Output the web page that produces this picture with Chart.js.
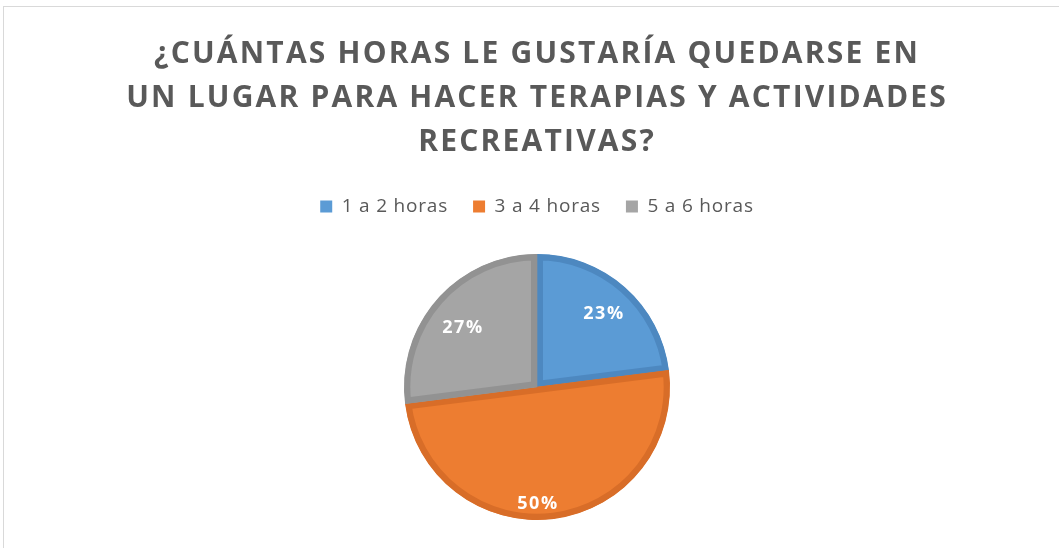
<!DOCTYPE html>
<html>
<head>
<meta charset="utf-8">
<script src="https://cdn.jsdelivr.net/npm/chart.js@4.4.1/dist/chart.umd.min.js"></script>
<style>
  html, body { margin: 0; padding: 0; background: #fff; overflow: hidden; }
  #frame { position: absolute; left: 3px; top: 6px; width: 1100px; height: 600px; border: 1px solid #d9d9d9; }
  #wrap { position: absolute; left: 0; top: 0; width: 1059px; height: 548px; }
</style>
</head>
<body>
<div id="frame"></div>
<div id="wrap"><canvas id="pieChart"></canvas></div>
<script>
const titleLines = ['¿CUÁNTAS HORAS LE GUSTARÍA QUEDARSE EN', 'UN LUGAR PARA HACER TERAPIAS Y ACTIVIDADES', 'RECREATIVAS?'];
const categories = ['1 a 2 horas', '3 a 4 horas', '5 a 6 horas'];
const percentages = [23, 50, 27];
const fillColors = ['#5B9BD5', '#ED7D31', '#A5A5A5'];
const edgeColors = ['#4D88C0', '#D86D28', '#929292'];

// legend text is a bit wider in the original, so add a little spacing
const spacingPlugin = {
  id: 'spacing',
  beforeLayout(chart) { chart.ctx.letterSpacing = '0.8px'; },
  beforeDraw(chart) { chart.ctx.letterSpacing = '0.8px'; },
  afterDraw(chart) { chart.ctx.letterSpacing = '0px'; }
};

// bold title drawn by hand (space kept with layout padding)
const bigTitle = {
  id: 'bigTitle',
  afterDraw(chart, args, opts) {
    const ctx = chart.ctx;
    ctx.save();
    ctx.letterSpacing = opts.spacing + 'px';
    ctx.font = 'bold 30px "Open Sans"';
    ctx.fillStyle = '#595959';
    ctx.textAlign = 'center';
    ctx.textBaseline = 'alphabetic';
    opts.lines.forEach((line, i) => {
      ctx.fillText(line, opts.x + opts.spacing / 2, opts.y + i * opts.step);
    });
    ctx.restore();
  }
};

// percent labels inside the slices
const sliceLabels = {
  id: 'sliceLabels',
  afterDatasetsDraw(chart, args, opts) {
    const ctx = chart.ctx;
    const meta = chart.getDatasetMeta(0);
    ctx.save();
    ctx.letterSpacing = '1.5px';
    ctx.font = 'bold 18px "Open Sans"';
    ctx.fillStyle = '#fff';
    ctx.textAlign = 'center';
    ctx.textBaseline = 'middle';
    meta.data.forEach((arc, i) => {
      const p = arc.getProps(['x', 'y', 'startAngle', 'endAngle', 'outerRadius']);
      const mid = (p.startAngle + p.endAngle) / 2 + (opts.turn[i] || 0);
      const r = p.outerRadius * opts.dist[i];
      ctx.fillText(chart.data.datasets[0].data[i] + '%', p.x + Math.cos(mid) * r + 1, p.y + Math.sin(mid) * r + 2);
    });
    ctx.restore();
  }
};

new Chart(document.getElementById('pieChart'), {
  type: 'pie',
  data: {
    labels: categories,
    datasets: [{
      data: percentages,
      backgroundColor: fillColors,
      borderColor: edgeColors,
      borderWidth: 6,
      borderAlign: 'inner',
      radius: 133
    }]
  },
  options: {
    responsive: true,
    maintainAspectRatio: false,
    animation: false,
    layout: { padding: { top: 172, bottom: 0, left: 15, right: 0 } },
    plugins: {
      title: { display: false },
      legend: {
        position: 'top',
        labels: {
          color: '#595959',
          font: { family: '"Open Sans"', size: 19 },
          boxWidth: 12,
          boxHeight: 12,
          padding: 25,
          // solid squares, no slice border in the legend
          generateLabels(chart) {
            const items = Chart.controllers.pie.overrides.plugins.legend.labels.generateLabels(chart);
            items.forEach((it, i) => { it.lineWidth = 0; it.strokeStyle = fillColors[i]; it.fillStyle = fillColors[i]; });
            return items;
          }
        }
      },
      tooltip: { enabled: false },
      bigTitle: { lines: titleLines, x: 536, y: 63, step: 44, spacing: 2.2 },
      sliceLabels: { dist: [0.75, 0.865, 0.727], turn: [0, 0.126, -0.04] }
    }
  },
  plugins: [spacingPlugin, bigTitle, sliceLabels]
});
</script>
</body>
</html>
